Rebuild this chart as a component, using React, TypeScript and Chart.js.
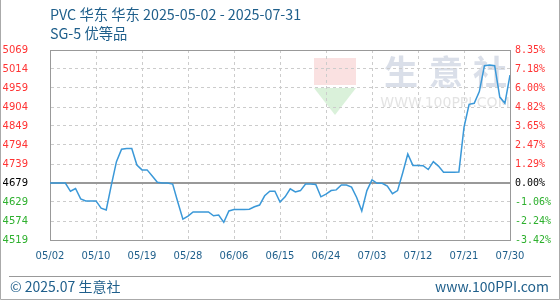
import React, { useEffect, useRef } from 'react';
import { Chart, registerables } from 'chart.js';

Chart.register(...registerables);

const titleText = 'PVC 华东 华东 2025-05-02 - 2025-07-31';
const subtitleText = 'SG-5 优等品';
const footerLeft = '© 2025.07 生意社';
const footerRight = 'www.100PPI.com';
const watermarkChars = ['生', '意', '社'];
const watermarkUrl = 'WWW.100PPI.COM';

const xLabels = ['05/02', '05/10', '05/19', '05/28', '06/06', '06/15', '06/24', '07/03', '07/12', '07/21', '07/30'];
// bottom to top
const priceLabels = ['4519', '4574', '4629', '4679', '4739', '4794', '4849', '4904', '4959', '5014', '5069'];
const pctLabels = ['-3.42%', '-2.24%', '-1.06%', '0.00%', '1.29%', '2.47%', '3.65%', '4.82%', '6.00%', '7.18%', '8.35%'];
const basePrice = 4679;
const priceStep = 55.07;
const baseIndex = 3;

const prices = [
  4679, 4679, 4679, 4679, 4655, 4663, 4633, 4627, 4627, 4627,
  4606, 4601, 4673, 4741, 4777, 4779, 4779, 4731, 4717, 4717,
  4699, 4681, 4679, 4679, 4676, 4624, 4574, 4583, 4595, 4595,
  4595, 4595, 4584, 4586, 4565, 4598, 4602, 4602, 4602, 4603,
  4610, 4615, 4642, 4655, 4655, 4624, 4639, 4662, 4653, 4657,
  4676, 4676, 4675, 4639, 4647, 4657, 4659, 4673, 4673, 4667,
  4637, 4598, 4657, 4688, 4678, 4678, 4670, 4648, 4657, 4708,
  4763, 4730, 4730, 4729, 4718, 4741, 4728, 4710, 4710, 4710,
  4711, 4840, 4907, 4910, 4944, 5019, 5021, 5019, 4928, 4910,
  4992,
];

const RED = '#ff3333';
const GREEN = '#2eb02e';
const BLUE_TEXT = '#1f5f8b';

const tickColor = (i: number) => (i > baseIndex ? RED : i === baseIndex ? '#000000' : GREEN);

export default function App() {
  const ref = useRef<HTMLCanvasElement | null>(null);

  useEffect(() => {
    if (!ref.current) return;
    const yMin = basePrice - baseIndex * priceStep;
    const yMax = yMin + (priceLabels.length - 1) * priceStep;
    const pctMin = (yMin / basePrice - 1) * 100;
    const pctMax = (yMax / basePrice - 1) * 100;
    const pctStep = (priceStep / basePrice) * 100;
    const lastX = prices.length - 1;
    const xStep = lastX / (xLabels.length - 1);

    const decor = {
      id: 'decor',
      beforeDraw(chart: any) {
        const ctx = chart.ctx;
        ctx.save();
        // watermark logo
        ctx.fillStyle = 'rgba(240,170,170,0.35)';
        ctx.fillRect(314, 58, 42, 27);
        ctx.fillStyle = 'rgba(150,215,150,0.35)';
        ctx.beginPath();
        ctx.moveTo(314, 88);
        ctx.lineTo(356, 88);
        ctx.lineTo(335, 115);
        ctx.closePath();
        ctx.fill();
        ctx.fillStyle = 'rgba(205,212,226,0.75)';
        ctx.font = 'bold 34px "Noto Sans CJK SC", sans-serif';
        ctx.textAlign = 'center';
        ctx.textBaseline = 'middle';
        const cx = [401, 446, 490];
        watermarkChars.forEach((c, i) => ctx.fillText(c, cx[i], 72));
        ctx.fillStyle = 'rgba(215,215,215,0.7)';
        ctx.font = '14px "DejaVu Sans", sans-serif';
        ctx.fillText(watermarkUrl, 445, 103);
        ctx.restore();
      },
      afterDraw(chart: any) {
        const ctx = chart.ctx;
        ctx.save();
        ctx.fillStyle = BLUE_TEXT;
        ctx.textAlign = 'left';
        ctx.textBaseline = 'middle';
        ctx.font = '14.3px "Noto Sans CJK SC", sans-serif';
        ctx.fillText(titleText, 50, 15);
        ctx.fillText(subtitleText, 50, 34);
        // footer separator
        ctx.strokeStyle = '#999999';
        ctx.lineWidth = 1;
        ctx.beginPath();
        ctx.moveTo(9, 276.5);
        ctx.lineTo(551, 276.5);
        ctx.stroke();
        ctx.font = '14px "Noto Sans CJK SC", sans-serif';
        ctx.fillText(footerLeft, 10, 287);
        ctx.textAlign = 'right';
        ctx.fillText(footerRight, 549, 287);
        // outer frame
        ctx.strokeStyle = '#aaaaaa';
        ctx.beginPath();
        ctx.moveTo(0.5, 0);
        ctx.lineTo(0.5, 299.5);
        ctx.lineTo(559.5, 299.5);
        ctx.lineTo(559.5, 0);
        ctx.stroke();
        ctx.restore();
      },
    };

    const chart = new Chart(ref.current, {
      type: 'line',
      data: {
        datasets: [
          {
            data: prices.map((v, i) => ({ x: i, y: v })),
            borderColor: '#3a98d8',
            borderWidth: 1.5,
            pointRadius: 0,
            tension: 0,
            fill: false,
            xAxisID: 'x',
            yAxisID: 'y',
          },
        ],
      },
      options: {
        responsive: false,
        animation: false,
        layout: { padding: { top: 50, left: 0, right: 0, bottom: 0 } },
        plugins: { legend: { display: false }, tooltip: { enabled: false }, title: { display: false } },
        scales: {
          x: {
            type: 'linear',
            min: 0,
            max: lastX,
            afterBuildTicks: (s: any) => {
              s.ticks = xLabels.map((_, i) => ({ value: i * xStep }));
            },
            ticks: {
              autoSkip: false,
              maxRotation: 0,
              padding: 10,
              color: BLUE_TEXT,
              font: { family: '"DejaVu Sans", sans-serif', size: 10 },
              callback: (_v: any, i: number) => xLabels[i],
            },
            grid: {
              drawTicks: false,
              color: (c: any) => (c.index === 0 || c.index === xLabels.length - 1 ? '#999999' : '#cccccc'),
              lineWidth: 1,
            },
            border: {
              display: true,
              color: '#999999',
              dash: (c: any) => (c.index === 0 || c.index === xLabels.length - 1 ? [] : [3, 3]),
            },
            afterFit: (s: any) => {
              s.height = 60;
            },
          },
          y: {
            type: 'linear',
            position: 'left',
            min: yMin,
            max: yMax,
            afterBuildTicks: (s: any) => {
              s.ticks = priceLabels.map((_, i) => ({ value: yMin + i * priceStep }));
            },
            ticks: {
              padding: 22,
              color: (c: any) => tickColor(c.index),
              font: { family: '"DejaVu Sans", sans-serif', size: 10 },
              callback: (_v: any, i: number) => priceLabels[i],
            },
            grid: {
              drawTicks: false,
              color: (c: any) => (c.index === baseIndex || c.index === priceLabels.length - 1 ? '#999999' : '#cccccc'),
              lineWidth: (c: any) => (c.index === baseIndex ? 2 : 1),
            },
            border: {
              display: true,
              color: '#999999',
              dash: (c: any) => (c.index === baseIndex || c.index === priceLabels.length - 1 ? [] : [3, 3]),
            },
            afterFit: (s: any) => {
              s.width = 50;
            },
          },
          y2: {
            type: 'linear',
            position: 'right',
            min: pctMin,
            max: pctMax,
            afterBuildTicks: (s: any) => {
              s.ticks = pctLabels.map((_, i) => ({ value: pctMin + i * pctStep }));
            },
            ticks: {
              padding: 5,
              color: (c: any) => tickColor(c.index),
              font: { family: '"DejaVu Sans Mono", monospace', size: 10 },
              callback: (_v: any, i: number) => pctLabels[i],
            },
            grid: { display: false, drawTicks: false },
            border: { display: false },
            afterFit: (s: any) => {
              s.width = 50;
            },
          },
        },
      },
      plugins: [decor],
    } as any);

    return () => chart.destroy();
  }, []);

  return (
    <div style={{ position: 'fixed', left: 0, top: 0, width: 560, height: 300, background: '#ffffff' }}>
      <canvas ref={ref} width={560} height={300} style={{ display: 'block', width: 560, height: 300 }} />
    </div>
  );
}
